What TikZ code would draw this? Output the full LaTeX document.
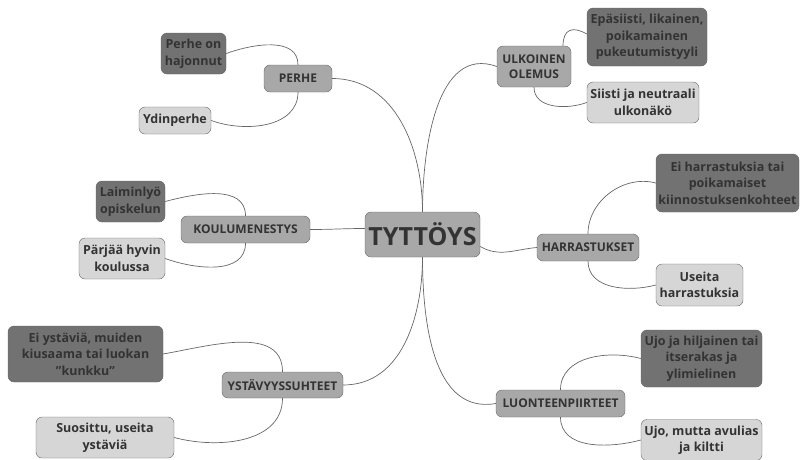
\documentclass[tikz,border=0pt]{standalone}
\usepackage{fontspec}
\setmainfont{Open Sans}
\usepackage{xcolor}
\usepackage{tikz}
\usetikzlibrary{shapes,arrows.meta}

\definecolor{darkbox}{HTML}{727272}
\definecolor{midbox}{HTML}{A8A8A8}
\definecolor{lightbox}{HTML}{D6D6D6}
\definecolor{boxline}{HTML}{666666}
\definecolor{boxtext}{HTML}{333333}

\begin{document}
\begin{tikzpicture}[
    x=1pt, y=-1pt,
    box/.style={draw=boxline, rounded corners=6pt, align=center, text=boxtext, inner sep=0pt, font=\fontsize{12.5}{16.5}\selectfont\bfseries},
    root/.style={box, fill=midbox, minimum width=115pt, minimum height=45pt, font=\fontsize{25}{30}\selectfont\bfseries},
    topic/.style={box, fill=midbox, minimum height=27pt, font=\fontsize{12}{15}\selectfont\bfseries},
    minus/.style={box, fill=darkbox},
    plus/.style={box, fill=lightbox},
    link/.style={draw=boxline, line width=0.7pt}
]
    \useasboundingbox (0,0) rectangle (800,459);

    % Root
    \node [root] (top) at (422.5,234.5) {TYTTÖYS};

    % Topics
    \node [topic, minimum width=68pt] (perhe) at (298,78.5) {PERHE};
    \node [topic, minimum width=129pt] (koulu) at (245.5,229.5) {KOULUMENESTYS};
    \node [topic, minimum width=121pt, minimum height=26pt] (ystav) at (282.5,385) {YSTÄVYYSSUHTEET};
    \node [topic, minimum width=74pt, minimum height=41pt] (ulkoinen) at (534,66.5) {ULKOINEN\\OLEMUS};
    \node [topic, minimum width=102pt] (harr) at (588,247.5) {HARRASTUKSET};
    \node [topic, minimum width=129pt] (luonne) at (560.5,403.5) {LUONTEENPIIRTEET};

    % Left leaves
    \node [minus, minimum width=65pt, minimum height=41pt] (hajonnut) at (193.5,53.5) {Perhe on\\hajonnut};
    \node [plus, minimum width=72pt, minimum height=27pt] (ydin) at (175,120.5) {Ydinperhe};
    \node [minus, minimum width=69pt, minimum height=41pt] (laimin) at (130.5,201.5) {Laiminlyö\\opiskelun};
    \node [plus, minimum width=86pt, minimum height=41pt] (parjaa) at (122,258.5) {Pärjää hyvin\\koulussa};
    \node [minus, minimum width=155pt, minimum height=56pt] (eiyst) at (85.5,354) {Ei ystäviä, muiden\\kiusaama tai luokan\\\symbol{34}kunkku\symbol{34}};
    \node [plus, minimum width=138pt, minimum height=41pt] (suosittu) at (105,437.5) {Suosittu, useita\\ystäviä};

    % Right leaves
    \node [minus, minimum width=120pt, minimum height=58pt] (epasiisti) at (647,37) {Epäsiisti, likainen,\\poikamainen\\pukeutumistyyli};
    \node [plus, minimum width=112pt, minimum height=41pt] (siisti) at (643,102.5) {Siisti ja neutraali\\ulkonäkö};
    \node [minus, minimum width=143pt, minimum height=58pt] (eiharr) at (727.5,183) {Ei harrastuksia tai\\poikamaiset\\kiinnostuksenkohteet};
    \node [plus, minimum width=87pt, minimum height=42pt] (useita) at (699.5,285) {Useita\\harrastuksia};
    \node [minus, minimum width=121pt, minimum height=57pt] (ujohil) at (701.5,358.5) {Ujo ja hiljainen tai\\itserakas ja\\ylimielinen};
    \node [plus, minimum width=121pt, minimum height=41pt] (ujomutta) at (701.5,440) {Ujo, mutta avulias\\ja kiltti};

    % Root to topics
    \draw [link] (top.north) to[out=90, in=0] (perhe.east);
    \draw [link] (top.north) to[out=90, in=160] (ulkoinen.west);
    \draw [link] (koulu.east) to[out=0, in=180] ([yshift=6pt]top.west);
    \draw [link] ([yshift=-12pt]top.east) to[out=-30, in=185] (harr.west);
    \draw [link] (top.south) to[out=-90, in=0] (ystav.east);
    \draw [link] (top.south) to[out=-90, in=190] (luonne.west);

    % Topics to leaves
    \foreach \a/\b/\o/\i in {perhe.north/hajonnut.east/90/20, perhe.south/ydin.east/-90/-20,
        koulu.north/laimin.east/90/15, koulu.south/parjaa.east/-90/-20,
        ystav.north/eiyst.east/90/10, ystav.south/suosittu.east/-90/-15,
        ulkoinen.south/siisti.west/-90/200, harr.north/eiharr.west/90/165,
        harr.south/useita.west/-90/195, luonne.north/ujohil.west/90/165,
        luonne.south/ujomutta.west/-90/195} {
        \draw [link] (\a) to[out=\o, in=\i] (\b);
    }
    \draw [link] ([xshift=29pt]ulkoinen.north) to[out=90, in=150, looseness=1.6] ([yshift=3pt]epasiisti.west);
\end{tikzpicture}
\end{document}
